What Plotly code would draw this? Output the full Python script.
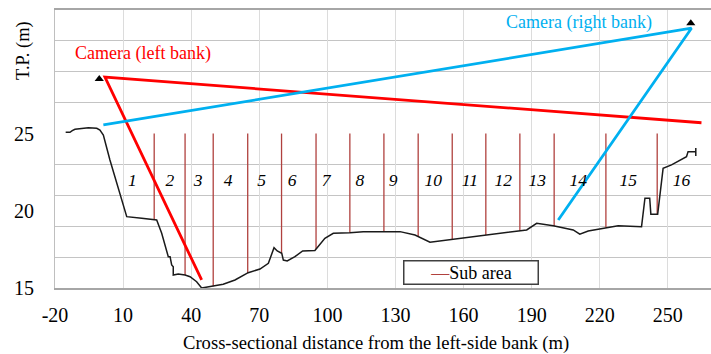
import numpy as np
import plotly.graph_objects as go

# ---- data ----
profile_x = [-15.3, -13.4, -12.4, -11.2, -5.3, -1.6, -0.2, 1.3, 4.2, 7.2, 11.6, 18.2, 23.3, 24.8,
             27.0, 29.2, 29.9, 30.7, 31.4, 32.1, 32.1, 34.3, 37.3, 39.5, 40.9, 42.4, 44.6, 48.3,
             54.1, 59.3, 65.1, 70.3, 74.0, 76.5, 77.9, 79.9, 80.6, 82.3, 85.7, 89.1, 93.8, 94.5,
             98.9, 102.6, 109.9, 115.8, 132.0, 138.6, 145.2, 184.8, 187.8, 192.2, 199.5, 208.3,
             211.2, 214.9, 220.1, 223.0, 228.1, 238.4, 239.9, 242.0, 242.5, 245.5, 247.9, 251.6,
             258.2, 258.9, 262.3, 262.3, 262.3]
profile_y = [25.08, 25.08, 25.19, 25.28, 25.38, 25.34, 25.23, 24.91, 23.29, 21.78, 19.62, 19.51,
             19.45, 19.40, 18.54, 17.46, 17.03, 17.03, 16.49, 16.38, 15.84, 15.91, 15.84, 15.73,
             15.56, 15.41, 15.0, 15.08, 15.24, 15.52, 15.99, 16.23, 16.60, 17.61, 17.40, 17.25,
             16.81, 16.75, 17.03, 17.40, 17.40, 17.43, 18.22, 18.54, 18.58, 18.65, 18.65, 18.43,
             17.96, 18.71, 18.76, 19.19, 19.03, 18.76, 18.48, 18.69, 18.82, 18.93, 19.03, 18.97,
             20.81, 20.81, 19.77, 19.77, 22.75, 22.97, 23.50, 23.83, 23.83, 24.07, 23.55]

sub_bounds = [23.7, 37.3, 49.7, 64.9, 79.8, 95.0, 109.9, 124.9, 140.0, 155.0, 169.8, 184.8,
              199.9, 222.7, 245.3]
sub_top = 25.0
sub_label_x = [14.1, 30.6, 43.1, 56.3, 71.0, 84.5, 99.4, 114.3, 129.0, 146.6, 162.8, 177.5,
               192.4, 210.5, 232.5, 256.0]
sub_label_y = 21.9
sub_labels = [str(i) for i in range(1, 17)]

cam_left_x = [264.8, 2.0, 44.6]
cam_left_y = [25.7, 28.65, 15.52]
cam_right_x = [1.3, 260.4, 201.7]
cam_right_y = [25.56, 31.82, 19.4]
cam_marker_x = [-0.5, 260.1]
cam_marker_y = [28.54, 32.14]

x_ticks = [-20, 10, 40, 70, 100, 130, 160, 190, 220, 250]
x_tick_text = ["-20", "10", "40", "70", "100", "130", "160", "190", "220", "250"]
y_ticks = [15, 20, 25]
y_grid = [17, 19, 21, 23, 27, 29, 31]

# ---- derived ----
sub_bottom = np.interp(sub_bounds, profile_x, profile_y)
sx, sy = [], []
for b, bt in zip(sub_bounds, sub_bottom):
    sx += [b, b, None]
    sy += [sub_top, float(bt), None]

FONT = "Liberation Serif, Times New Roman, serif"
RED = "#FF0000"
BLUE = "#00B0F0"
SUB = "#B0413E"

fig = go.Figure()
fig.add_trace(go.Scatter(x=sx, y=sy, mode="lines", line=dict(color=SUB, width=1.3),
                         name="Sub area", showlegend=False, hoverinfo="skip"))
fig.add_trace(go.Scatter(x=profile_x, y=profile_y, mode="lines",
                         line=dict(color="#1a1a1a", width=1.5), showlegend=False))
fig.add_trace(go.Scatter(x=cam_left_x, y=cam_left_y, mode="lines",
                         line=dict(color=RED, width=2.8), showlegend=False))
fig.add_trace(go.Scatter(x=cam_right_x, y=cam_right_y, mode="lines",
                         line=dict(color=BLUE, width=2.8), showlegend=False))
fig.add_trace(go.Scatter(x=cam_marker_x, y=cam_marker_y, mode="markers",
                         marker=dict(symbol="triangle-up", size=8, color="black"),
                         showlegend=False))
fig.add_trace(go.Scatter(x=sub_label_x, y=[sub_label_y] * len(sub_label_x), mode="text",
                         text=["<i>" + t + "</i>" for t in sub_labels],
                         textfont=dict(family=FONT, size=17.5, color="black"),
                         showlegend=False))

W, H = 711, 354
ml, mt, mb, mr = 55, 10, 66, 0
pw, ph = W - ml - mr, H - mt - mb

def px2paper(px, py):
    return (px - ml) / pw, (H - mb - py) / ph

annos = []
tx, ty = px2paper(24, 51)
annos.append(dict(text="T.P. (m)", xref="paper", yref="paper", x=tx, y=ty, textangle=-90,
                  xanchor="center", yanchor="middle",
                  showarrow=False, font=dict(family=FONT, size=18.5, color="black")))
tx, ty = px2paper(376, 343)
annos.append(dict(text="Cross-sectional distance from the left-side bank (m)", xref="paper",
                  yref="paper", x=tx, y=ty, showarrow=False, xanchor="center", yanchor="middle",
                  font=dict(family=FONT, size=18.6, color="black")))
annos.append(dict(text="Camera (left bank)", x=18.8, y=30.2, showarrow=False,
                  xanchor="center", yanchor="middle",
                  font=dict(family=FONT, size=18, color=RED)))
annos.append(dict(text="Camera (right bank)", x=210.7, y=32.18, showarrow=False,
                  xanchor="center", yanchor="middle",
                  font=dict(family=FONT, size=18, color=BLUE)))
annos.append(dict(text="<span style='color:%s'>—</span>Sub area" % SUB, x=163.1, y=15.98,
                  xanchor="center", yanchor="middle",
                  showarrow=False, font=dict(family=FONT, size=18, color="black"),
                  bordercolor="#404040", borderwidth=1.5, borderpad=1, bgcolor="white",
                  width=131, height=20, align="center"))

fig.update_layout(
    width=W, height=H, margin=dict(l=ml, r=mr, t=mt, b=mb, pad=0),
    paper_bgcolor="white", plot_bgcolor="white", showlegend=False,
    annotations=annos,
    xaxis=dict(range=[-20, 269], tickvals=x_ticks, ticktext=x_tick_text, showgrid=True,
               gridcolor="#dcdcdc", gridwidth=1, zeroline=False, showline=True,
               linecolor="#a6a6a6", linewidth=2, mirror=True, ticks="", ticklabelstandoff=8,
               tickfont=dict(family=FONT, size=20, color="black")),
    yaxis=dict(range=[15, 33], tickvals=y_ticks, showgrid=False, zeroline=False,
               showline=True, linecolor="#bfbfbf", linewidth=1, ticks="",
               ticklabelstandoff=16, tickfont=dict(family=FONT, size=20, color="black"),
               minor=dict(tickmode="array", tickvals=y_grid, showgrid=True,
                          gridcolor="#c4c4c4", gridwidth=1.3, ticks="")),
)

fig.write_html("out.html")
